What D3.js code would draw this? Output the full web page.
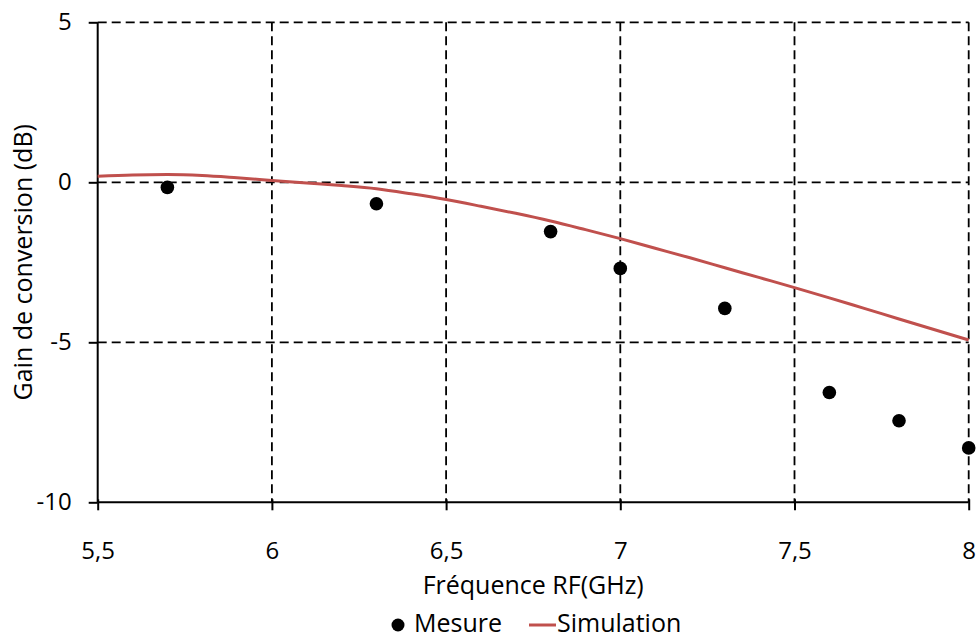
<!DOCTYPE html>
<html><head><meta charset="utf-8">
<script src="https://cdn.jsdelivr.net/npm/d3@7"></script>
<style>body{margin:0;background:#fff}svg{display:block}text{font-family:"Open Sans","Liberation Sans",sans-serif}</style>
</head><body>
<svg id="c" width="978" height="639"></svg>
<script>
const measFreq = [5.7, 6.3, 6.8, 7.0, 7.3, 7.6, 7.8, 8.0];
const measGain = [-0.16, -0.67, -1.54, -2.69, -3.94, -6.57, -7.45, -8.30];
const simFreq = [5.5,5.6,5.7,5.8,5.9,6.0,6.1,6.2,6.3,6.4,6.5,6.6,6.7,6.8,6.9,7.0,7.1,7.2,7.3,7.4,7.5,7.6,7.7,7.8,7.9,8.0];
const simGain = [0.19,0.23,0.24,0.21,0.14,0.06,-0.02,-0.10,-0.20,-0.36,-0.54,-0.75,-0.97,-1.21,-1.48,-1.76,-2.06,-2.36,-2.67,-2.98,-3.29,-3.61,-3.94,-4.27,-4.60,-4.93];
const xTicks = [5.5, 6, 6.5, 7, 7.5, 8];
const yTicks = [-10, -5, 0, 5];
const xLabel = "Fréquence RF(GHz)";
const yLabel = "Gain de conversion (dB)";
const seriesNames = ["Mesure", "Simulation"];

const svg = d3.select("#c");
const L = 97.7, R = 968.7, T = 22.3, B = 502.3;
const x = d3.scaleLinear().domain([5.5, 8]).range([L, R]);
const y = d3.scaleLinear().domain([-10, 5]).range([B, T]);
const fmt = d => String(d).replace(".", ",");
const red = "#C0504D";
const FS = 24;

// grid
const g = svg.append("g");
g.selectAll(".gx").data(xTicks.slice(1)).join("line")
  .attr("x1", d => x(d)).attr("x2", d => x(d)).attr("y1", T).attr("y2", B)
  .attr("stroke", "#000").attr("stroke-width", 1.8).attr("stroke-dasharray", "9,5");
g.selectAll(".gy").data(yTicks.slice(1)).join("line")
  .attr("x1", L).attr("x2", R).attr("y1", d => y(d)).attr("y2", d => y(d))
  .attr("stroke", "#000").attr("stroke-width", 1.8).attr("stroke-dasharray", "9,5");

// axes
const xAxis = d3.axisBottom(x).tickValues(xTicks).tickFormat(fmt).tickSize(8).tickPadding(22);
const yAxis = d3.axisLeft(y).tickValues(yTicks).tickFormat(d => d).tickSize(9).tickPadding(17);
const gx = svg.append("g").attr("transform", `translate(0,${B})`).call(xAxis);
const gy = svg.append("g").attr("transform", `translate(${L},0)`).call(yAxis);
[gx, gy].forEach(a => {
  a.select(".domain").attr("stroke", "#000").attr("stroke-width", 2);
  a.selectAll(".tick line").attr("stroke", "#000").attr("stroke-width", 2);
  a.selectAll("text").attr("font-size", FS).attr("fill", "#000")
    .attr("font-family", "'Open Sans','Liberation Sans',sans-serif");
});
gx.selectAll(".tick text").attr("dy", null).attr("y", 57).attr("dominant-baseline", "auto");
gx.selectAll(".tick text").attr("y", 57);
gy.selectAll(".tick text").attr("x", -26);
gx.select(".domain").attr("d", `M${L},0H${R}`);
gy.select(".domain").attr("d", `M0,${B}V${T}`);
gx.selectAll(".tick line").attr("y1", -3);

// simulation line
svg.append("path").datum(simFreq.map((f, i) => [f, simGain[i]]))
  .attr("fill", "none").attr("stroke", red).attr("stroke-width", 3)
  .attr("d", d3.line().x(d => x(d[0])).y(d => y(d[1])).curve(d3.curveMonotoneX));

// measurements
svg.selectAll(".m").data(measFreq.map((f, i) => [f, measGain[i]])).join("circle")
  .attr("cx", d => x(d[0])).attr("cy", d => y(d[1])).attr("r", 6.8).attr("fill", "#000");

// labels
svg.append("text").attr("x", (L + R) / 2).attr("y", 594).attr("text-anchor", "middle")
  .attr("font-size", 25).text(xLabel);
svg.append("text").attr("transform", `translate(32,${(T + B) / 2}) rotate(-90)`)
  .attr("text-anchor", "middle").attr("font-size", 25).text(yLabel);

// legend
const lg = svg.append("g");
lg.append("circle").attr("cx", 398).attr("cy", 625).attr("r", 6.5).attr("fill", "#000");
lg.append("text").attr("x", 414).attr("y", 632).attr("font-size", 25).text(seriesNames[0]);
lg.append("line").attr("x1", 529).attr("x2", 556).attr("y1", 625).attr("y2", 625)
  .attr("stroke", red).attr("stroke-width", 3);
lg.append("text").attr("x", 557).attr("y", 632).attr("font-size", 25).text(seriesNames[1]);
</script>
</body></html>
